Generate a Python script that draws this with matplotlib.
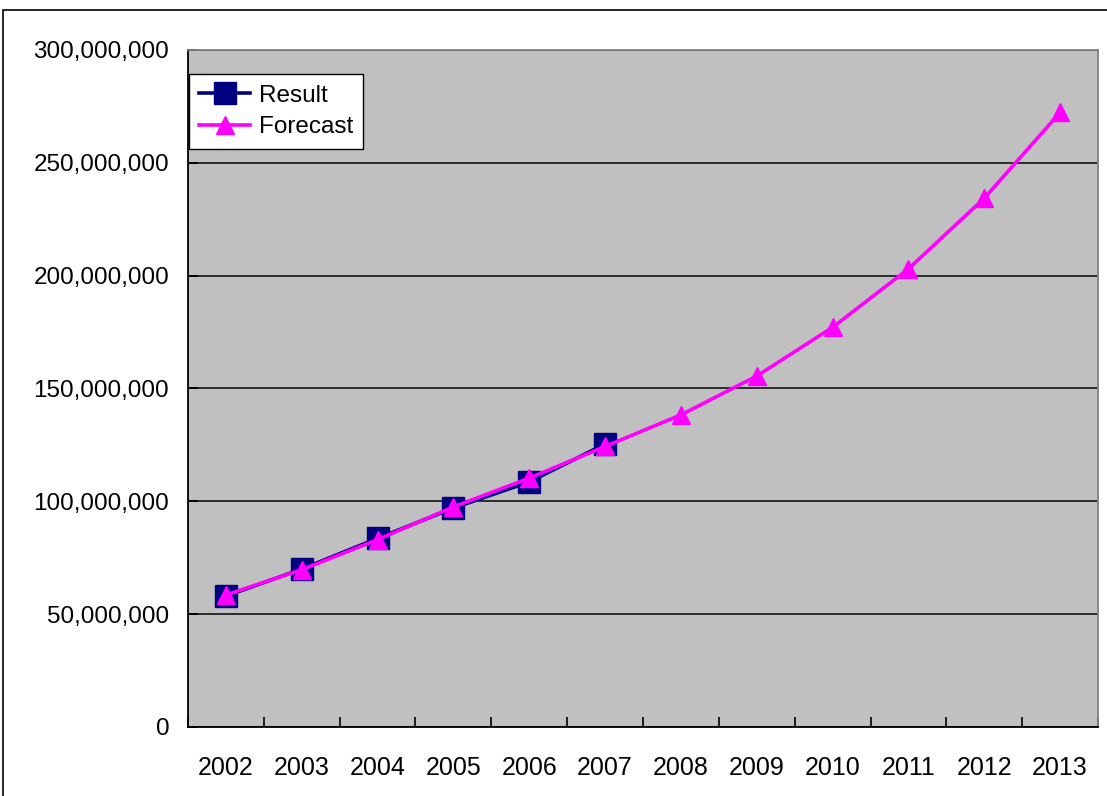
import matplotlib.pyplot as plt
from matplotlib.patches import Rectangle
from matplotlib.ticker import FuncFormatter, FixedLocator

plt.rcParams['font.family'] = ['Liberation Sans', 'DejaVu Sans']

years = ["2002", "2003", "2004", "2005", "2006", "2007",
         "2008", "2009", "2010", "2011", "2012", "2013"]
result = [58.0e6, 70.0e6, 83.6e6, 97.0e6, 108.6e6, 125.4e6]
forecast = [58.5e6, 69.7e6, 83.0e6, 97.5e6, 110.3e6, 124.3e6,
            138.3e6, 155.5e6, 177.1e6, 203.0e6, 234.3e6, 272.3e6]

fig = plt.figure(figsize=(11.07, 7.96), dpi=100)
fig.patch.set_facecolor("white")

# thin frame around the whole chart area
fig.patches.append(Rectangle((0.0027, -0.05), 1.2, 0.9874 + 0.05,
                             transform=fig.transFigure, fill=False,
                             edgecolor="black", linewidth=1.2))

ax = fig.add_axes([0.1698, 0.0867, 0.9919 - 0.1698, 0.9372 - 0.0867])
ax.set_facecolor("#C0C0C0")

x_res = list(range(len(result)))
x_fc = list(range(len(forecast)))

ax.plot(x_res, result, color="#000080", linewidth=2.6, marker="s",
        markersize=16.5, markerfacecolor="#000080", markeredgecolor="#000080",
        label="Result", zorder=3)
ax.plot(x_fc, forecast, color="#FF00FF", linewidth=2.6, marker="^",
        markersize=13.5, markerfacecolor="#FF00FF", markeredgecolor="#FF00FF",
        label="Forecast", zorder=4)

ax.set_xlim(-0.5, len(years) - 0.5)
ax.set_ylim(0, 300e6)

ax.set_yticks([i * 50e6 for i in range(7)])
ax.yaxis.set_major_formatter(FuncFormatter(lambda v, p: f"{int(v):,}"))
ax.yaxis.grid(True, color="#202020", linewidth=1.3)
ax.set_axisbelow(True)

ax.set_xticks(x_fc)
ax.set_xticklabels(years)
ax.xaxis.set_minor_locator(FixedLocator([i + 0.5 for i in range(-1, len(years))]))
ax.tick_params(axis="x", which="major", length=0, pad=21, labelsize=18)
ax.tick_params(axis="x", which="minor", direction="in", length=7,
               width=1.2, color="black")
ax.tick_params(axis="y", which="major", direction="in", length=7,
               width=1.2, pad=13.5, labelsize=17.5)

for side in ("left", "bottom"):
    ax.spines[side].set_color("black")
    ax.spines[side].set_linewidth(1.3)
for side in ("top", "right"):
    ax.spines[side].set_color("#808080")
    ax.spines[side].set_linewidth(1.3)

leg = ax.legend(loc="upper left", bbox_to_anchor=(0.001, 0.964),
                fontsize=17.5, frameon=True, fancybox=False, framealpha=1,
                edgecolor="black", handlelength=2.1, handletextpad=0.35,
                borderpad=0.42, labelspacing=0.4, borderaxespad=0)
leg.get_frame().set_linewidth(1.0)

fig.savefig("out.png", dpi=100)
